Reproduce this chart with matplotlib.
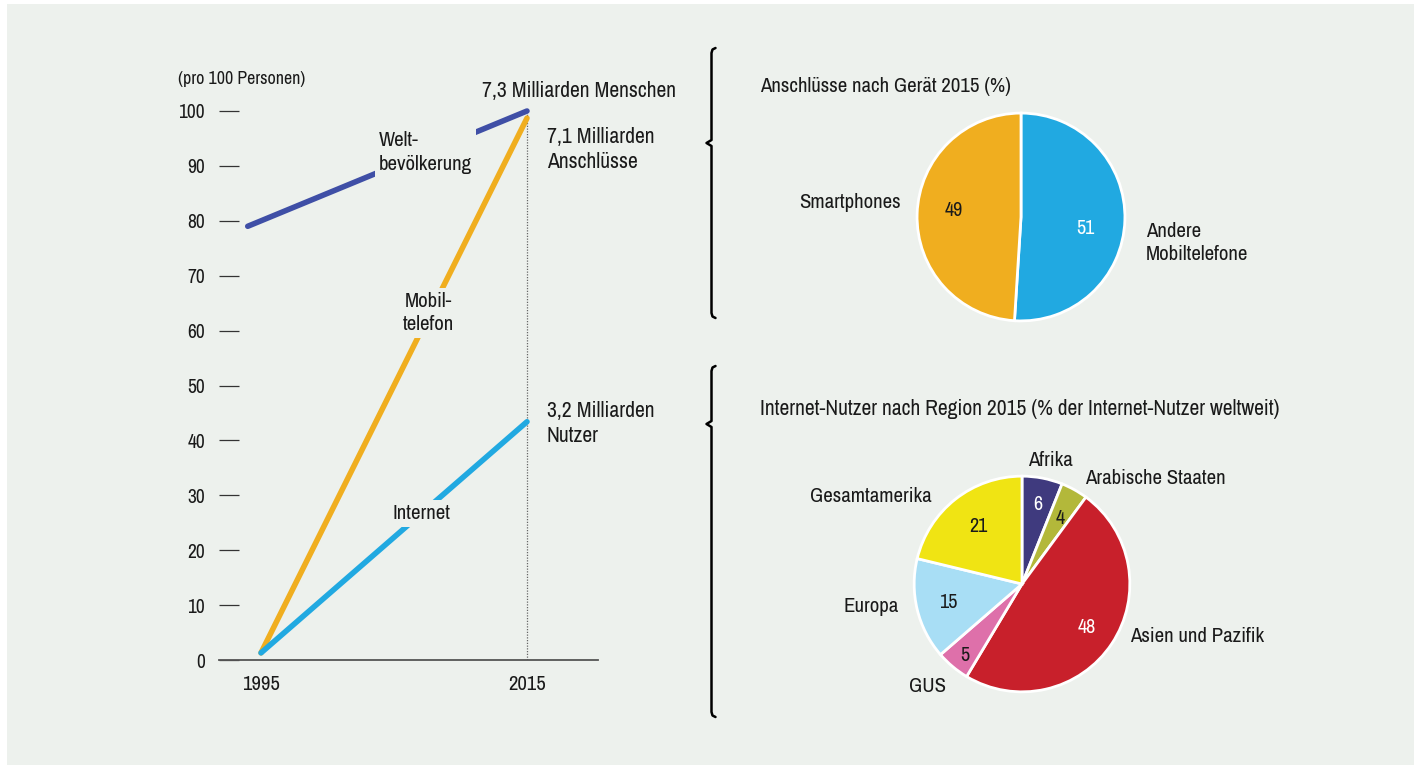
import matplotlib
matplotlib.use("Agg")
import matplotlib.pyplot as plt
import matplotlib.font_manager as fm
from matplotlib.patches import Rectangle

# pick a narrow font if one is installed, else Liberation Sans
narrow = None
for f in fm.fontManager.ttflist:
    if ("Narrow" in f.name or "Condensed" in f.name) and f.style == "normal":
        narrow = (f.name, "normal")
        break
if narrow is None:
    for f in fm.fontManager.ttflist:
        if str(f.stretch) in ("condensed", "semi-condensed") and f.style == "normal":
            narrow = (f.name, f.stretch)
            break
if narrow is not None:
    plt.rcParams['font.family'] = [narrow[0], 'DejaVu Sans']
    plt.rcParams['font.stretch'] = narrow[1]
    FS = 1.0
else:
    plt.rcParams['font.family'] = ['Liberation Sans', 'DejaVu Sans']
    FS = 0.9

# ---------------- data ----------------
years = [1995, 2015]
welt_years = [1994, 2015]
welt_values = [79, 100]
mobil_values = [1.3, 98.7]
internet_values = [1.3, 43.4]
y_ticks = [0, 10, 20, 30, 40, 50, 60, 70, 80, 90, 100]

geraet_labels = ["Andere\nMobiltelefone", "Smartphones"]
geraet_values = [51, 49]
geraet_colors = ["#21A9E1", "#F0AE1F"]

region_labels = ["Afrika", "Arabische Staaten", "Asien und Pazifik", "GUS", "Europa", "Gesamtamerika"]
region_values = [6, 4, 48, 5, 15, 21]
region_colors = ["#3F3A7E", "#B3B83A", "#C8202B", "#DE70AA", "#A8DEF5", "#F0E413"]

BG = "#EDF1ED"
TXT = "#1A1A1A"
W, H = 1421, 769

F_TICK = 14.0 * FS
F_XTICK = 14.9 * FS
F_YLAB = 12.9 * FS
F_LBL = 15.0 * FS
F_ANN = 15.6 * FS
F_TITLE = 15.0 * FS
F_TITLE2 = 15.5 * FS
F_NUM = 14.5 * FS

fig = plt.figure(figsize=(W / 100, H / 100), dpi=100, facecolor="white")

def px_axes(x0, y0, x1, y1, **kw):
    return fig.add_axes([x0 / W, 1 - y1 / H, (x1 - x0) / W, (y1 - y0) / H], **kw)

# background overlay
bgax = px_axes(0, 0, W, H)
bgax.set_xlim(0, W)
bgax.set_ylim(H, 0)
bgax.axis("off")
bgax.add_patch(Rectangle((7, 4), 1407, 761, facecolor=BG, edgecolor="none", zorder=0))

# ---------------- line chart ----------------
ymax = 103
ax = px_axes(219, 660 - ymax * 5.49, 598, 660)
ax.set_facecolor("none")
ax.set_xlim(1991.84, 2020.34)
ax.set_ylim(0, ymax)
for s in ["top", "right", "left"]:
    ax.spines[s].set_visible(False)
ax.spines["bottom"].set_color("#555555")
ax.spines["bottom"].set_linewidth(1.3)
ax.set_yticks(y_ticks)
ax.set_yticklabels([str(v) for v in y_ticks])
ax.tick_params(axis="y", direction="in", length=14.4, width=0.9, color="#333333",
               pad=10, labelsize=F_TICK, labelcolor=TXT)
ax.set_xticks(years)
ax.set_xticklabels([str(y) for y in years])
ax.tick_params(axis="x", length=0, pad=11, labelsize=F_XTICK, labelcolor=TXT)

ax.vlines(years[1], 0, 100.5, colors="#666666", linestyles=(0, (1, 1.2)), linewidth=0.9, zorder=1)
ax.plot(welt_years, welt_values, color="#3F4FA6", lw=4, solid_capstyle="round", zorder=2)
ax.plot(years, mobil_values, color="#F0AE1F", lw=4, solid_capstyle="round", zorder=2)
ax.plot(years, internet_values, color="#21A9E1", lw=4, solid_capstyle="round", zorder=2)

lbl = dict(fontsize=F_LBL, color=TXT, linespacing=1.3, zorder=5,
           bbox=dict(facecolor=BG, edgecolor="none", pad=3))
ax.text(2003.85, 92.4, "Welt-\nbevölkerung", ha="left", va="center", **lbl)
ax.text(2007.6, 63.2, "Mobil-\ntelefon", ha="center", va="center", **lbl)
ax.text(2007.1, 26.7, "Internet", ha="center", va="center", **lbl)

ann = dict(fontsize=F_ANN, color=TXT, linespacing=1.3, zorder=5)
ax.text(2018.9, 103.6, "7,3 Milliarden Menschen", ha="center", va="center", **ann)
ax.text(2016.5, 93.0, "7,1 Milliarden\nAnschlüsse", ha="left", va="center", **ann)
ax.text(2016.5, 43.1, "3,2 Milliarden\nNutzer", ha="left", va="center", **ann)

fig.text(178 / W, 1 - 79 / H, "(pro 100 Personen)", ha="left", va="center", fontsize=F_YLAB, color=TXT)

# ---------------- braces ----------------
def brace(x, y0, ymid, y1):
    xs = [x + 4, x + 1, x, x, x - 5, x, x, x + 1, x + 4]
    ys = [y0, y0 + 1.5, y0 + 5, ymid - 3, ymid, ymid + 3, y1 - 5, y1 - 1.5, y1]
    bgax.plot(xs, ys, color="black", lw=1.8, solid_joinstyle="round", solid_capstyle="round", zorder=3)

brace(711.5, 48, 143, 318)
brace(711.5, 366, 424, 717)

# ---------------- pie 1 ----------------
bgax.text(760, 87, "Anschlüsse nach Gerät 2015 (%)", ha="left", va="center", fontsize=F_TITLE, color=TXT)
r1 = 106
pax1 = px_axes(1021 - r1, 217 - r1, 1021 + r1, 217 + r1)
pax1.pie(geraet_values, colors=geraet_colors, startangle=90, counterclock=False, radius=1,
         wedgeprops=dict(edgecolor="white", linewidth=2))
pax1.set_xlim(-1.02, 1.02)
pax1.set_ylim(-1.02, 1.02)
pax1.set_aspect("equal")
num = dict(fontsize=F_NUM, ha="center", va="center")
pax1.text(66 / r1, -12 / r1, str(geraet_values[0]), color="white", **num)
pax1.text(-69 / r1, 7 / r1, str(geraet_values[1]), color=TXT, **num)
bgax.text(1146, 243, geraet_labels[0], ha="left", va="center", fontsize=F_LBL, color=TXT, linespacing=1.3)
bgax.text(901, 203, geraet_labels[1], ha="right", va="center", fontsize=F_LBL, color=TXT)

# ---------------- pie 2 ----------------
bgax.text(760, 409, "Internet-Nutzer nach Region 2015 (% der Internet-Nutzer weltweit)",
          ha="left", va="center", fontsize=F_TITLE2, color=TXT)
r2 = 110
pax2 = px_axes(1022 - r2, 584 - r2, 1022 + r2, 584 + r2)
pax2.pie(region_values, colors=region_colors, startangle=90, counterclock=False, radius=1,
         wedgeprops=dict(edgecolor="white", linewidth=2))
pax2.set_xlim(-1.02, 1.02)
pax2.set_ylim(-1.02, 1.02)
pax2.set_aspect("equal")
num_pos = [(1038, 503), (1061, 517), (1088, 628), (964, 657), (947, 603), (978, 525)]
num_col = ["white", TXT, "white", TXT, TXT, TXT]
for v, (x, y), c in zip(region_values, num_pos, num_col):
    pax2.text((x - 1022) / r2, -(y - 584) / r2, str(v), color=c, **num)

lab_specs = [(1050, 460, "center"), (1085, 479, "left"), (1130, 636, "left"),
             (927, 686, "center"), (899, 606, "right"), (932, 497, "right")]
for name, (x, y, ha) in zip(region_labels, lab_specs):
    bgax.text(x, y, name, ha=ha, va="center", fontsize=F_LBL, color=TXT)

fig.savefig("out.png", dpi=100, facecolor="white")
